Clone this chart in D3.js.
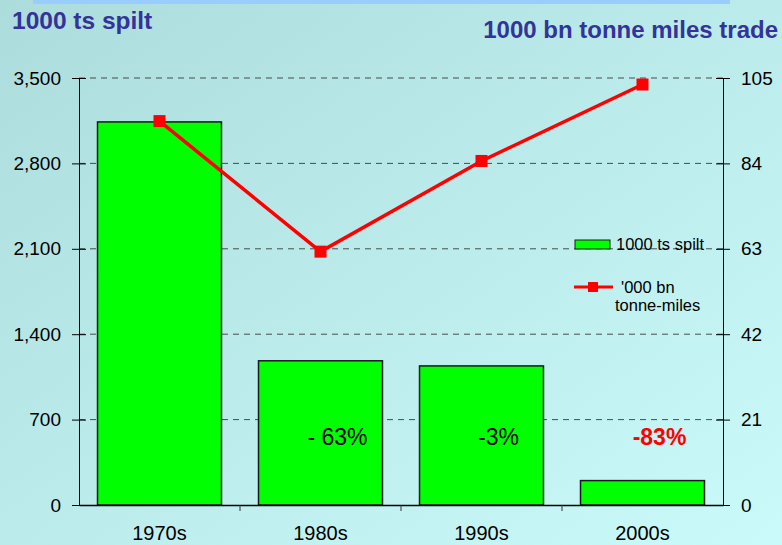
<!DOCTYPE html>
<html>
<head>
<meta charset="utf-8">
<script src="https://cdn.jsdelivr.net/npm/d3@7"></script>
<style>
  body { margin: 0; }
  svg { display: block; font-family: "Liberation Sans", Arial, sans-serif; }
</style>
</head>
<body>
<svg width="782" height="545"></svg>
<script>
// data
const decades = ["1970s", "1980s", "1990s", "2000s"];
const spilt = [3140, 1182, 1140, 200];          // 1000 ts spilt
const tonneMiles = [94.4, 62.3, 84.6, 103.4];   // '000 bn tonne-miles
const leftTicks = [0, 700, 1400, 2100, 2800, 3500];
const rightTicks = [0, 21, 42, 63, 84, 105];
const changes = ["- 63%", "-3%", "-83%"];

const svg = d3.select("svg");
const W = 782, H = 545;
const m = {left: 79, right: 723, top: 78, bottom: 505};
const FONT = "Liberation Sans, Arial, sans-serif";

// background
const defs = svg.append("defs");
const grad = defs.append("linearGradient").attr("id", "bg")
    .attr("x1", "0").attr("y1", "0").attr("x2", "1").attr("y2", "1");
grad.append("stop").attr("offset", "0%").attr("stop-color", "#addcdc");
grad.append("stop").attr("offset", "100%").attr("stop-color", "#cbfafa");
svg.append("rect").attr("width", W).attr("height", H).attr("fill", "url(#bg)");
svg.append("rect").attr("x", 33).attr("y", 0).attr("width", 697).attr("height", 4).attr("fill", "#99ccff");

// scales
const x = d3.scaleBand().domain(decades).range([m.left, m.right]).paddingInner(0.23).paddingOuter(0.115);
const yL = d3.scaleLinear().domain([0, 3500]).range([m.bottom, m.top]);
const yR = d3.scaleLinear().domain([0, 105]).range([m.bottom, m.top]);

// gridlines
svg.append("g").selectAll("line")
    .data(leftTicks.slice(1))
    .join("line")
    .attr("x1", m.left).attr("x2", m.right)
    .attr("y1", d => yL(d)).attr("y2", d => yL(d))
    .attr("stroke", "#333").attr("stroke-width", 1)
    .attr("stroke-dasharray", "6,5").attr("opacity", 0.85);

// bars
svg.append("g").selectAll("rect")
    .data(decades)
    .join("rect")
    .attr("x", d => x(d))
    .attr("y", (d, i) => yL(spilt[i]))
    .attr("width", x.bandwidth())
    .attr("height", (d, i) => yL(0) - yL(spilt[i]))
    .attr("fill", "#00ff00")
    .attr("stroke", "#1a1a1a").attr("stroke-width", 1.5);

// axes
const leftAxis = d3.axisLeft(yL).tickValues(leftTicks).tickSizeInner(7).tickSizeOuter(0)
    .tickFormat(d3.format(","));
const gl = svg.append("g").attr("transform", `translate(${m.left},0)`).call(leftAxis)
    .attr("font-family", FONT).attr("font-size", 19);
gl.selectAll(".tick line").attr("x2", 7).attr("x1", -7);
gl.selectAll(".tick text").attr("x", -18).attr("fill", "#000");
gl.select(".domain").attr("stroke", "#000");

const rightAxis = d3.axisRight(yR).tickValues(rightTicks).tickSizeInner(7).tickSizeOuter(0);
const gr = svg.append("g").attr("transform", `translate(${m.right},0)`).call(rightAxis)
    .attr("font-family", FONT).attr("font-size", 19);
gr.selectAll(".tick line").attr("x1", -7).attr("x2", 7);
gr.selectAll(".tick text").attr("x", 18).attr("fill", "#000");
gr.select(".domain").attr("stroke", "#000");

const bottomAxis = d3.axisBottom(x).tickSize(0);
const gb = svg.append("g").attr("transform", `translate(0,${m.bottom})`).call(bottomAxis)
    .attr("font-family", FONT).attr("font-size", 20);
gb.select(".domain").attr("stroke", "#000").attr("stroke-width", 1.5);
gb.selectAll(".tick text").attr("y", 21).attr("fill", "#000");
// category separators
const step = x.step();
svg.append("g").selectAll("line")
    .data(decades.slice(1))
    .join("line")
    .attr("x1", d => x(d) - (step - x.bandwidth()) / 2)
    .attr("x2", d => x(d) - (step - x.bandwidth()) / 2)
    .attr("y1", m.bottom).attr("y2", m.bottom + 6)
    .attr("stroke", "#333");

// line
const cx = d => x(d) + x.bandwidth() / 2;
const line = d3.line().x((d, i) => cx(decades[i])).y(d => yR(d));
svg.append("path").datum(tonneMiles)
    .attr("d", line).attr("fill", "none")
    .attr("stroke", "#ff0000").attr("stroke-width", 3.5);
svg.append("g").selectAll("rect")
    .data(tonneMiles)
    .join("rect")
    .attr("x", (d, i) => cx(decades[i]) - 6)
    .attr("y", d => yR(d) - 6)
    .attr("width", 12).attr("height", 12)
    .attr("fill", "#ff0000");

// change annotations
svg.append("g").selectAll("text")
    .data(changes)
    .join("text")
    .attr("x", (d, i) => cx(decades[i + 1]) + 17)
    .attr("y", 445)
    .attr("text-anchor", "middle")
    .attr("font-size", 23)
    .attr("font-weight", (d, i) => i === 2 ? "bold" : "normal")
    .attr("fill", (d, i) => i === 2 ? "#ff0000" : "#000")
    .text(d => d);

// titles
svg.append("text").attr("x", 12).attr("y", 29)
    .attr("font-size", 24.5).attr("font-weight", "bold").attr("fill", "#333399")
    .text("1000 ts spilt");
svg.append("text").attr("x", 778).attr("y", 38).attr("text-anchor", "end")
    .attr("font-size", 24).attr("font-weight", "bold").attr("fill", "#333399")
    .text("1000 bn tonne miles trade");

// legend
const lg = svg.append("g").attr("font-size", 16.5);
lg.append("rect").attr("x", 575).attr("y", 240).attr("width", 35).attr("height", 9)
    .attr("fill", "#00ff00").attr("stroke", "#1a1a1a").attr("stroke-width", 1);
lg.append("text").attr("x", 616).attr("y", 250).text("1000 ts spilt");
lg.append("line").attr("x1", 574).attr("x2", 613).attr("y1", 287).attr("y2", 287)
    .attr("stroke", "#ff0000").attr("stroke-width", 3);
lg.append("rect").attr("x", 588).attr("y", 282).attr("width", 10).attr("height", 10).attr("fill", "#ff0000");
lg.append("text").attr("x", 621).attr("y", 293).text("'000 bn");
lg.append("text").attr("x", 615).attr("y", 311).text("tonne-miles");
</script>
</body>
</html>
